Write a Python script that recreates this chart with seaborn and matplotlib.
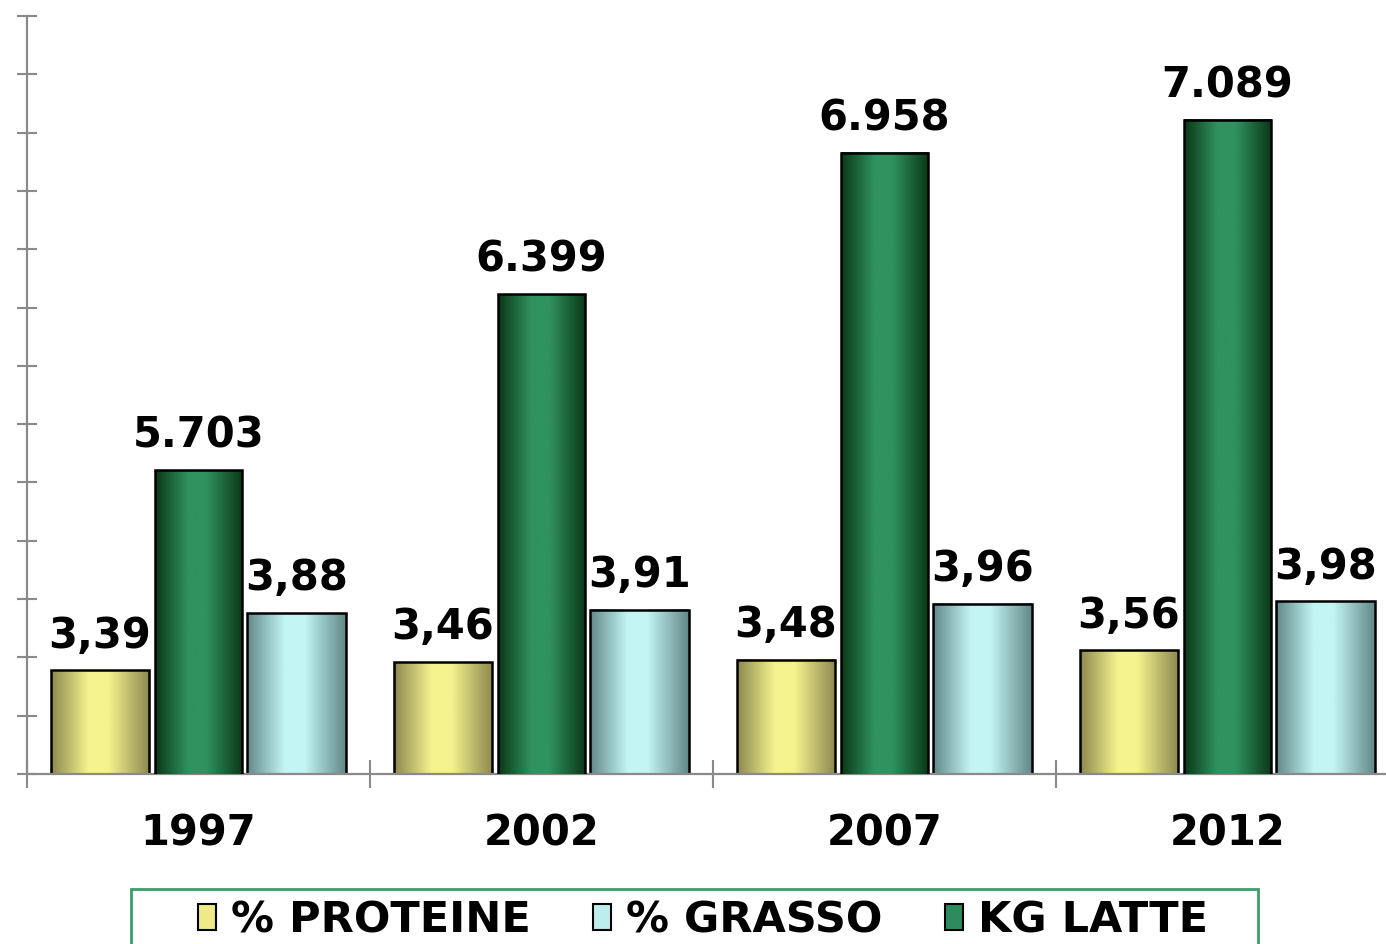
import numpy as np
import pandas as pd
import matplotlib
matplotlib.use("Agg")
import matplotlib.pyplot as plt
import seaborn as sns
from matplotlib.colors import LinearSegmentedColormap, to_hex
from matplotlib.patches import Patch, Rectangle

# ---- data ----
years = ["1997", "2002", "2007", "2012"]
proteine = [3.39, 3.46, 3.48, 3.56]
grasso = [3.88, 3.91, 3.96, 3.98]
latte = [5703, 6399, 6958, 7089]
series_order = ["% PROTEINE", "KG LATTE", "% GRASSO"]
legend_order = ["% PROTEINE", "% GRASSO", "KG LATTE"]

sns.set_style("white")
plt.rcParams["font.family"] = ["DejaVu Sans"]
plt.rcParams["font.weight"] = "bold"
plt.rcParams["text.color"] = "black"
plt.rcParams["xtick.color"] = "black"

df_pct = pd.DataFrame({
    "anno": years * 2,
    "valore": proteine + grasso,
    "serie": ["% PROTEINE"] * 4 + ["% GRASSO"] * 4,
})
df_kg = pd.DataFrame({"anno": years, "kg": latte})

base = {"% PROTEINE": "#eeea88", "KG LATTE": "#2e8a5c", "% GRASSO": "#bdeeee"}
grad = {
    "% PROTEINE": ("#f5f38e", "#8c8850"),
    "KG LATTE": ("#30925f", "#0a3816"),
    "% GRASSO": ("#c3f5f5", "#628888"),
}

fig = plt.figure(figsize=(13.86, 9.45), dpi=100)
ax = fig.add_axes([26.7 / 1386, 1 - 775 / 945, 1372 / 1386, 758 / 945])
ax2 = ax.twinx()

sns.barplot(data=df_pct, x="anno", y="valore", hue="serie", hue_order=series_order,
            order=years, palette=base, width=0.86, saturation=1, errorbar=None,
            legend=False, ax=ax, edgecolor="black", linewidth=1.8)
sns.barplot(data=df_kg, x="anno", y="kg", order=years, color=base["KG LATTE"],
            width=0.254, saturation=1, errorbar=None, ax=ax2,
            edgecolor="black", linewidth=1.8)

key_by_hex = {to_hex(c): k for k, c in base.items()}


def shade(axis, patch):
    h = patch.get_height()
    if not np.isfinite(h) or h == 0:
        return
    k = key_by_hex.get(to_hex(patch.get_facecolor()))
    if k is None:
        return
    light, dark = grad[k]
    cmap = LinearSegmentedColormap.from_list(
        "g", [(0, dark), (0.38, light), (0.58, light), (1, dark)])
    g = np.linspace(0, 1, 256).reshape(1, -1)
    x0 = patch.get_x()
    w = patch.get_width()
    axis.imshow(g, cmap=cmap, extent=[x0, x0 + w, 0, h], aspect="auto",
                zorder=patch.get_zorder() - 0.01, interpolation="bilinear")
    patch.set_facecolor("none")


for p in list(ax.patches):
    shade(ax, p)
for p in list(ax2.patches):
    shade(ax2, p)

ax.set_xlim(-0.5, 3.5)
ax.set_ylim(2.5, 9.0)
ax2.set_ylim(4500, 7500)

FS = 30
# value labels
for p in ax.patches:
    v = p.get_height()
    if not np.isfinite(v) or v == 0:
        continue
    ax.annotate(f"{v:.2f}".replace(".", ","), (p.get_x() + p.get_width() / 2, v),
                xytext=(0, 17), textcoords="offset points", ha="center",
                va="baseline", fontsize=FS, fontweight="bold", color="black",
                annotation_clip=False)
for p in ax2.patches:
    v = p.get_height()
    if not np.isfinite(v) or v == 0:
        continue
    ax2.annotate(f"{int(round(v)):,}".replace(",", "."), (p.get_x() + p.get_width() / 2, v),
                 xytext=(0, 17), textcoords="offset points", ha="center",
                 va="baseline", fontsize=FS, fontweight="bold", color="black",
                 annotation_clip=False)

# axes styling
axis_col = "#8a8a8a"
for s in ["top", "right"]:
    ax.spines[s].set_visible(False)
for s in ["left", "bottom"]:
    ax.spines[s].set_color(axis_col)
    ax.spines[s].set_linewidth(1.6)
for s in ax2.spines.values():
    s.set_visible(False)
ax2.set_yticks([])
ax2.set_ylabel("")
ax.set_ylabel("")
ax.set_xlabel("")

ax.set_yticks(np.arange(2.5, 9.01, 0.5))
ax.set_yticklabels([])
ax.tick_params(axis="y", direction="inout", length=14.4, width=1.5, color=axis_col, left=True)
ax.set_xticks([-0.5, 0.5, 1.5, 2.5, 3.5], minor=True)
ax.tick_params(axis="x", which="minor", direction="inout", length=20, width=1.5,
               color=axis_col, bottom=True)
ax.tick_params(axis="x", which="major", length=0, pad=27, labelsize=FS, labelcolor="black")
for lab in ax.get_xticklabels():
    lab.set_fontweight("bold")

# legend
handles = [Patch(facecolor=base[k], edgecolor="black", linewidth=1.5) for k in legend_order]
fig.legend(handles, legend_order, loc="upper center",
           bbox_to_anchor=(703 / 1386, 1 - 900 / 945), bbox_transform=fig.transFigure,
           ncol=3, frameon=False, prop={"size": 31, "weight": "bold"},
           labelcolor="black",
           handlelength=0.42, handleheight=0.55, handletextpad=0.35,
           columnspacing=1.45, borderpad=0, borderaxespad=0)
fig.add_artist(Rectangle((131 / 1386, -0.05), (1258 - 131) / 1386, (1 - 890 / 945) + 0.05,
                         transform=fig.transFigure, fill=False, edgecolor="#3d9c6b",
                         linewidth=2))

fig.savefig("out.png", dpi=100)
